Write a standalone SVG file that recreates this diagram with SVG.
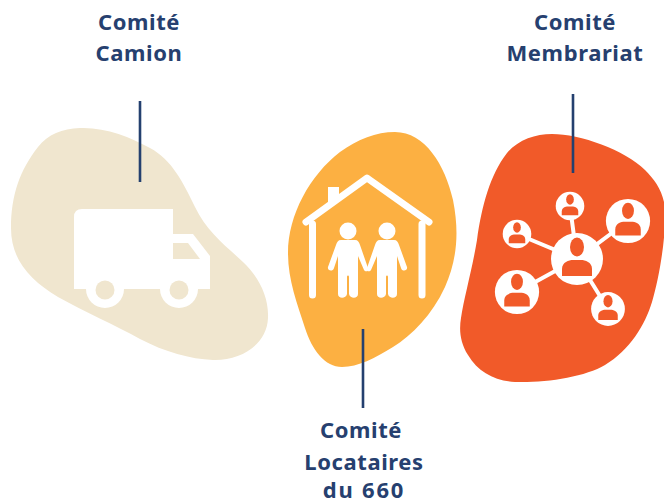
<svg xmlns="http://www.w3.org/2000/svg" width="664" height="504" viewBox="0 0 664 504">
<style>
.t{font-family:"Noto Sans","Open Sans",sans-serif;font-weight:700;font-size:22px;fill:#26406f;text-anchor:middle;letter-spacing:.6px}
.c{stroke:#24406f;stroke-width:2.6;fill:none}
.w{fill:#fff}
.l{stroke:#fff;stroke-width:4;fill:none}
.o{fill:#f15a29}
</style>
<defs>
<g id="p"><circle r="26" class="w"/><ellipse cy="-12" rx="7" ry="9.500" class="o"/><path d="M-15 17V10C-15 3-8 1-4 1H4C8 1 15 3 15 10V17Z" class="o"/></g>
</defs>
<g id="camion">
<path d="M80 128C105 127 130 137 150 148C172 160 183 182 195 207C207 232 226 246 243 262C258 276 269 296 268 318C267 345 240 361 213 360C190 359 165 352 140 339C115 325 85 312 58 297C30 280 11 260 11 228C11 195 20 170 38 147C48 134 62 129 80 128Z" fill="#f0e6cf"/>
<path class="w" d="M82 209H173V234H193L210 256V289H198A19 19 0 0 1 160 289H124A19 19 0 0 1 86 289H74V217Q74 209 82 209Z"/>
<path d="M173 243H188L200 259H173Z" fill="#f0e6cf"/>
<circle cx="105" cy="290" r="9.500" fill="#f0e6cf"/><circle cx="179" cy="290" r="9.500" fill="#f0e6cf"/>
</g>
<g id="locataires">
<path d="M395 132C425 132 445 165 453 200C460 235 456 262 445 287C432 315 412 335 393 347C375 358 358 367 342 367C325 367 312 350 305 328C297 303 288 280 288 253C288 215 310 175 340 152C358 139 376 132 395 132Z" fill="#fcb042"/>
<path d="M306 222L367 178L429 222" fill="none" stroke="#fff" stroke-width="7" stroke-linecap="round" stroke-linejoin="round"/>
<path class="w" d="M328 187H339V195L328 203Z"/>
<path d="M312.500 224V295M422 224V295" fill="none" stroke="#fff" stroke-width="7" stroke-linecap="round"/>
<circle cx="348" cy="231" r="8.500" class="w"/><circle cx="387" cy="231" r="8.500" class="w"/>
<path class="w" d="M341 240H355C358 240 359 242 360 245L368 268C369 272 365 272 364 270L358 256V294C358 299 350 299 349 294V277C349 275 347 275 347 277V294C346 299 338 299 338 294V256L334 268C333 272 327 271 328 267L336 245C337 242 338 240 341 240Z"/>
<path class="w" d="M380 240H394C397 240 398 242 399 245L407 267C408 271 402 272 401 268L397 256V294C397 299 389 299 388 294V277C388 275 386 275 386 277V294C385 299 377 299 377 294V256L371 270C370 272 366 272 367 268L375 245C376 242 377 240 380 240Z"/>
</g>
<g id="membrariat">
<path d="M552 134C580 134 625 150 645 170C655 180 664 192 665 210C666 235 660 275 652 302C645 325 630 350 605 365C585 377 545 383 515 382C495 381 478 372 468 355C460 342 459 330 461 318C464 298 472 270 477 240C482 205 490 175 507 153C518 140 535 134 552 134Z" fill="#f15a29"/>
<path class="l" d="M577 259L570 206M577 259L628 221M577 259L517 234M577 259L517 292M577 259L608 309"/>
<use href="#p" x="577" y="259"/>
<use href="#p" transform="translate(570 206) scale(.55)"/>
<use href="#p" transform="translate(628 221) scale(.85)"/>
<use href="#p" transform="translate(517 234) scale(.55)"/>
<use href="#p" transform="translate(517 292) scale(.85)"/>
<use href="#p" transform="translate(608 309) scale(.65)"/>
</g>
<g id="connecteurs">
<path class="c" d="M140 101V182M363 329V408M573 94V173"/>
</g>
<g id="labels">
<text class="t" x="139" y="30">Comité</text>
<text class="t" x="139" y="61">Camion</text>
<text class="t" x="575" y="30">Comité</text>
<text class="t" x="575" y="61">Membrariat</text>
<text class="t" x="361" y="438">Comité</text>
<text class="t" x="364" y="470">Locataires</text>
<text class="t" x="364" y="498" style="letter-spacing:1.8px">du 660</text>
</g>
</svg>
